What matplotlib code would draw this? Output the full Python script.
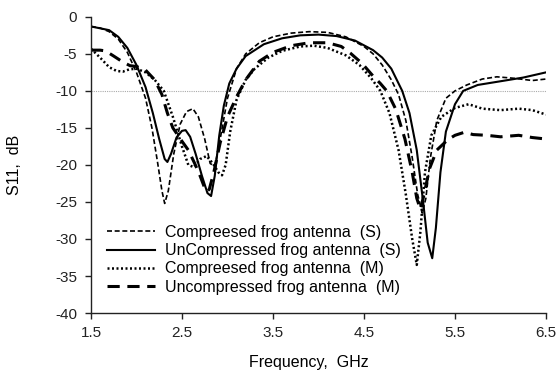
import matplotlib
matplotlib.use("Agg")
import matplotlib.pyplot as plt

plt.rcParams['font.family'] = ['Liberation Sans', 'DejaVu Sans']

# Compressed frog antenna (S)
f_cs = [1.5, 1.6, 1.7, 1.8, 1.9, 2.0, 2.1, 2.17, 2.23, 2.28, 2.31, 2.35, 2.41, 2.48, 2.55, 2.62, 2.68, 2.75, 2.81, 2.86, 2.92, 3.0, 3.1, 3.2, 3.35, 3.5, 3.7, 3.9, 4.1, 4.3, 4.5, 4.6, 4.7, 4.8, 4.88, 4.96, 5.03, 5.09, 5.14, 5.18, 5.23, 5.3, 5.4, 5.5, 5.63, 5.8, 5.96, 6.15, 6.35, 6.5]
s_cs = [-1.3, -1.5, -2.0, -3.0, -4.8, -7.5, -11, -15, -19.5, -23.5, -25.2, -23.5, -18.5, -14.5, -12.8, -12.4, -13.5, -16.5, -19.8, -20.2, -16.5, -11, -7, -5, -3.5, -2.7, -2.2, -2.0, -2.1, -2.7, -4, -5, -6.5, -8.5, -10.5, -14, -19, -24, -26.5, -24.5, -19, -14, -11, -10, -9.2, -8.4, -8.1, -8.3, -8.6, -8.4]

# UnCompressed frog antenna (S)
f_us = [1.5, 1.7, 1.8, 1.9, 2.0, 2.1, 2.18, 2.25, 2.31, 2.34, 2.38, 2.44, 2.5, 2.54, 2.59, 2.65, 2.72, 2.78, 2.82, 2.86, 2.91, 2.96, 3.02, 3.1, 3.2, 3.4, 3.6, 3.8, 4.0, 4.2, 4.4, 4.6, 4.7, 4.8, 4.92, 5.0, 5.08, 5.15, 5.2, 5.25, 5.29, 5.34, 5.4, 5.5, 5.59, 5.75, 6.0, 6.25, 6.5]
s_us = [-1.3, -1.8, -2.7, -4.2, -6.5, -9.5, -13, -16.5, -19.2, -19.6, -18.5, -16.3, -15.4, -15.3, -16.2, -18.5, -21.5, -23.8, -24.2, -21.5, -16, -12, -9, -7, -5.3, -3.7, -2.9, -2.5, -2.4, -2.6, -3.2, -4.5, -5.5, -7, -10, -13, -18, -25, -30.5, -32.6, -28.5, -21, -15.5, -11.8, -10, -9.2, -8.7, -8.2, -7.5]

# Compreesed frog antenna (M)
f_cm = [1.5, 1.6, 1.7, 1.78, 1.85, 1.92, 2.0, 2.1, 2.2, 2.3, 2.4, 2.5, 2.57, 2.63, 2.7, 2.77, 2.84, 2.9, 2.94, 2.98, 3.03, 3.1, 3.2, 3.3, 3.45, 3.6, 3.8, 3.95, 4.1, 4.3, 4.45, 4.58, 4.68, 4.78, 4.88, 4.96, 5.03, 5.08, 5.12, 5.17, 5.24, 5.35, 5.5, 5.65, 5.8, 6.0, 6.2, 6.35, 6.5]
s_cm = [-4.3, -5.5, -6.8, -7.3, -7.4, -7.1, -7.0, -7.5, -8.5, -10, -13.5, -17.5, -20, -20.3, -19.2, -18.8, -19.8, -21, -21.4, -20, -15.5, -11.2, -8.5, -7, -5.5, -4.6, -4.0, -3.9, -4.2, -5.2, -6.5, -8.3, -10, -13, -18, -24, -30, -33.5, -29, -21, -16, -13.5, -12.3, -11.8, -12.4, -12.6, -12.4, -12.6, -13.2]

# Uncompressed frog antenna (M)
f_um = [1.5, 1.6, 1.66, 1.75, 1.85, 1.93, 2.0, 2.1, 2.2, 2.28, 2.34, 2.4, 2.5, 2.57, 2.64, 2.7, 2.74, 2.77, 2.8, 2.85, 2.92, 3.0, 3.1, 3.2, 3.35, 3.5, 3.7, 3.9, 4.1, 4.25, 4.35, 4.48, 4.6, 4.68, 4.75, 4.85, 4.95, 5.03, 5.08, 5.12, 5.16, 5.22, 5.3, 5.42, 5.5, 5.6, 5.7, 5.85, 6.0, 6.2, 6.35, 6.5]
s_um = [-4.5, -4.5, -4.6, -5.3, -6.1, -6.6, -6.7, -7.2, -8.5, -10.5, -13, -15, -16.8, -18, -19.8, -21.5, -22.8, -23.6, -23.3, -21, -17, -13.5, -10.8, -8.5, -6.0, -4.8, -3.9, -3.5, -3.5, -4.0, -4.9, -6.3, -8, -9, -10, -12.5, -16.5, -21, -24.5, -26, -24, -20.5, -18, -16.6, -16.0, -15.6, -15.9, -16.0, -16.2, -16.0, -16.3, -16.5]

labels = ["Compreesed frog antenna  (S)", "UnCompressed frog antenna  (S)",
          "Compreesed frog antenna  (M)", "Uncompressed frog antenna  (M)"]
x_ticks = [1.5, 2.5, 3.5, 4.5, 5.5, 6.5]
y_ticks = [0, -5, -10, -15, -20, -25, -30, -35, -40]

fig = plt.figure(figsize=(5.58, 3.74), dpi=100)
ax = fig.add_axes([0.163, 0.163, 0.8155, 0.792])

ax.axhline(-10, color='#aaaaaa', lw=0.8, ls=(0, (1, 1)), zorder=0)
ax.plot(f_cs, s_cs, color='black', lw=1.2, ls=(0, (3, 1.6)), label=labels[0])
ax.plot(f_us, s_us, color='black', lw=1.5, ls='-', label=labels[1])
ax.plot(f_cm, s_cm, color='black', lw=1.8, ls=(0, (0.8, 1.0)), label=labels[2])
ax.plot(f_um, s_um, color='black', lw=2.2, ls=(0, (4, 2.5)), label=labels[3])

ax.set_xlim(1.5, 6.5)
ax.set_ylim(-40, 0)
ax.set_xticks(x_ticks)
ax.set_xticklabels([f"{v:g}" for v in x_ticks])
ax.set_yticks(y_ticks)
ax.set_yticklabels([f"{v:g}" for v in y_ticks])
for s in ['top', 'right']:
    ax.spines[s].set_visible(False)
for s in ['left', 'bottom']:
    ax.spines[s].set_linewidth(1.0)
    ax.spines[s].set_color('#222222')
ax.tick_params(direction='out', length=4, width=1, labelsize=11, colors='#222222')
ax.tick_params(axis='x', pad=5)
ax.tick_params(axis='y', pad=6)
ax.set_xlabel("Frequency,  GHz", fontsize=11.5)
ax.xaxis.set_label_coords(0.478, -0.142)
ax.set_ylabel("S11,  dB", fontsize=11.5)
ax.yaxis.set_label_coords(-0.152, 0.5)

ax.legend(loc='lower left', bbox_to_anchor=(0.036, 0.062), frameon=False, fontsize=11.5,
          handlelength=3.0, handletextpad=0.6, labelspacing=0.2, borderaxespad=0.0,
          borderpad=0.0)

fig.savefig("out.png", dpi=100)
